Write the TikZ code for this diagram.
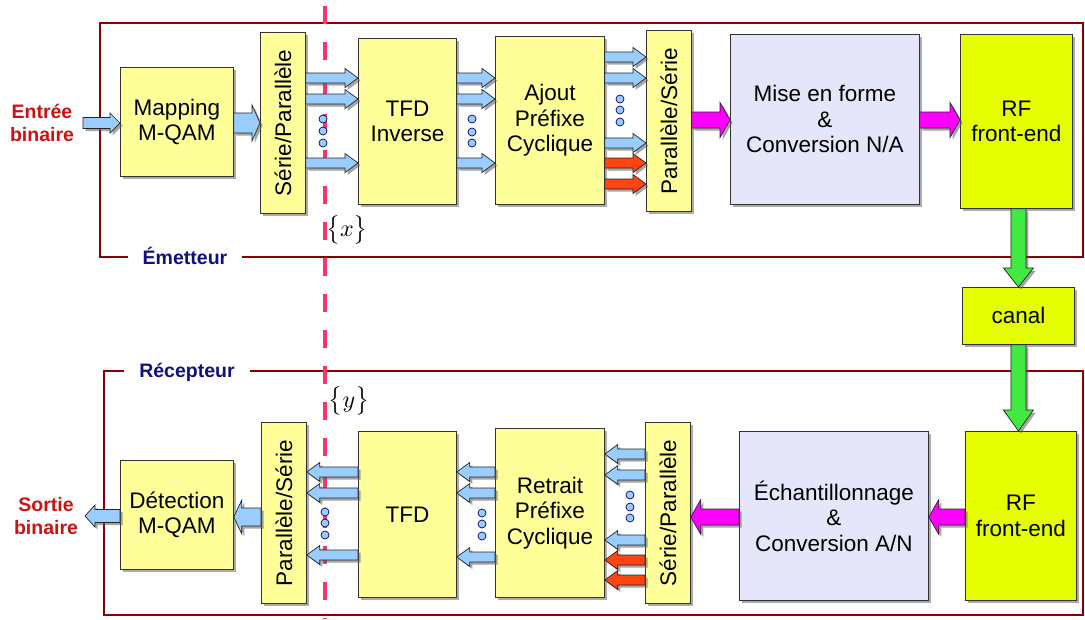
\documentclass[tikz,border=0pt]{standalone}
\usepackage[no-math]{fontspec}
\setmainfont{Liberation Sans}
\usepackage{graphicx}
\usetikzlibrary{calc,shadows}
\definecolor{boxy}{HTML}{FFFF99}
\definecolor{lav}{HTML}{E6E6FA}
\definecolor{rfy}{HTML}{E6FF00}
\definecolor{framec}{HTML}{8B0000}
\definecolor{dashc}{HTML}{FF3366}
\definecolor{ablue}{HTML}{99CCFF}
\definecolor{ared}{HTML}{FF4411}
\definecolor{amag}{HTML}{FF00FF}
\definecolor{agreen}{HTML}{40EA40}
\definecolor{lblred}{HTML}{CC1111}
\definecolor{lblnavy}{HTML}{10107F}
\newcommand\barrow[6]{%
  \coordinate (bs) at (#1);
  \coordinate (be) at (#2);
  \coordinate (bc) at ($(be)!#5!(bs)$);
  \path[fill=black!65, opacity=0.55, transform canvas={xshift=2.5pt,yshift=-2.5pt}]
    ($(bs)!#3!90:(be)$) -- ($(bc)!#3!90:(be)$) -- ($(bc)!#4!90:(be)$) -- (be)
    -- ($(bc)!#4!-90:(be)$) -- ($(bc)!#3!-90:(be)$) -- ($(bs)!#3!-90:(be)$) -- cycle;
  \path[#6]
    ($(bs)!#3!90:(be)$) -- ($(bc)!#3!90:(be)$) -- ($(bc)!#4!90:(be)$) -- (be)
    -- ($(bc)!#4!-90:(be)$) -- ($(bc)!#3!-90:(be)$) -- ($(bs)!#3!-90:(be)$) -- cycle;
}
\newcommand\pdots[2]{%
  \foreach \yy in {#2} {\draw[dotst] (#1,\yy) circle (4);}
}
\tikzset{
  box/.style={draw=black!80, line width=0.8pt, inner sep=0pt, align=center,
    anchor=north west, font=\fontsize{22.5}{25.5}\selectfont,
    drop shadow={shadow xshift=3pt, shadow yshift=-3pt, fill=black!55, opacity=0.6}},
  arrB/.style={draw=black!85, line width=0.7pt, fill=ablue},
  arrR/.style={draw=black!85, line width=0.7pt, fill=ared},
  arrM/.style={draw=black!85, line width=0.7pt, fill=amag},
  arrG/.style={draw=black!85, line width=0.7pt, fill=agreen},
  dotst/.style={draw=blue!45!black, line width=0.7pt, fill=ablue},
  frm/.style={draw=framec, line width=2.5pt},
  lblio/.style={text=lblred, font=\bfseries\fontsize{19.5}{22.5}\selectfont, align=center},
  lblfr/.style={text=lblnavy, font=\bfseries\fontsize{19.5}{22.5}\selectfont, fill=white, inner xsep=15pt, inner ysep=2pt, anchor=base},
  mathlbl/.style={inner sep=0pt}
}
\begin{document}
\begin{tikzpicture}[x=1pt, y=-1pt]
\useasboundingbox (0,0) rectangle (1085,619);
% frames
\draw[frm] (100,23) rectangle (1083,257);
\draw[frm] (104,371) rectangle (1083,615);
\node[lblfr] (emet) at (185,264) {Émetteur};
\node[lblfr] (recep) at (187,377) {Récepteur};
% dashed line
\draw[dashc, line width=3.5pt, dash pattern=on 18pt off 18pt] (325,6) -- (325,619);
% top boxes
\node[box, fill=boxy, minimum width=113pt, minimum height=109pt] (map) at (120,67) {Mapping\\M-QAM};
\node[box, fill=boxy, minimum width=45pt, minimum height=181pt] (sp1) at (260,32) {\rotatebox{90}{Série/Parallèle}};
\node[box, fill=boxy, minimum width=98pt, minimum height=166pt] (tfdi) at (358,38) {TFD\\Inverse};
\node[box, fill=boxy, minimum width=109pt, minimum height=168pt] (ajout) at (495,36) {Ajout\\Préfixe\\Cyclique};
\node[box, fill=boxy, minimum width=45pt, minimum height=181pt] (ps1) at (646,30) {\rotatebox{90}{Parallèle/Série}};
\node[box, fill=lav, minimum width=189pt, minimum height=170pt] (mise) at (730,34) {Mise en forme\\\&\\Conversion N/A};
\node[box, fill=rfy, minimum width=112pt, minimum height=174pt] (rf1) at (960,34) {RF\\front-end};
\node[box, fill=rfy, minimum width=112pt, minimum height=57pt] (canal) at (962,287) {canal};
% bottom boxes
\node[box, fill=boxy, minimum width=113pt, minimum height=109pt] (det) at (120,460) {Détection\\M-QAM};
\node[box, fill=boxy, minimum width=45pt, minimum height=181pt] (ps2) at (261,422) {\rotatebox{90}{Parallèle/Série}};
\node[box, fill=boxy, minimum width=98pt, minimum height=166pt] (tfd) at (358,431) {TFD};
\node[box, fill=boxy, minimum width=109pt, minimum height=169pt] (ret) at (495,428) {Retrait\\Préfixe\\Cyclique};
\node[box, fill=boxy, minimum width=45pt, minimum height=181pt] (sp2) at (645,422) {\rotatebox{90}{Série/Parallèle}};
\node[box, fill=lav, minimum width=189pt, minimum height=169pt] (ech) at (739,431) {Échantillonnage\\\&\\Conversion A/N};
\node[box, fill=rfy, minimum width=111pt, minimum height=169pt] (rf2) at (965,431) {RF\\front-end};
% labels
\node[lblio] (ein) at (42,123) {Entrée\\binaire};
\node[lblio] (sout) at (46,516) {Sortie\\binaire};
\node[mathlbl] (xl) at (347,230) {\scalebox{2.4}{$\bigl\{x\bigr\}$}};
\node[mathlbl] (yl) at (349,401) {\scalebox{2.4}{$\bigl\{y\bigr\}$}};
\coordinate (inpt) at (83,123);
\coordinate (outpt) at (85,516);
% top arrows
\barrow{inpt}{map.west |- 0,123}{5.5pt}{10pt}{10pt}{arrB}
\barrow{map.east |- 0,123}{sp1.west |- 0,123}{10pt}{18pt}{8pt}{arrB}
\foreach \yy in {78,99,163} {\barrow{sp1.east |- 0,\yy}{tfdi.west |- 0,\yy}{5pt}{9.5pt}{13pt}{arrB}}
\foreach \yy in {78,99,163} {\barrow{tfdi.east |- 0,\yy}{ajout.west |- 0,\yy}{5pt}{9.5pt}{13pt}{arrB}}
\foreach \yy in {57,78,143} {\barrow{ajout.east |- 0,\yy}{ps1.west |- 0,\yy}{5pt}{9.5pt}{13pt}{arrB}}
\foreach \yy in {163,184} {\barrow{ajout.east |- 0,\yy}{ps1.west |- 0,\yy}{5pt}{9.5pt}{13pt}{arrR}}
\barrow{ps1.east |- 0,120}{mise.west |- 0,120}{8pt}{17.5pt}{10pt}{arrM}
\barrow{mise.east |- 0,120}{rf1.west |- 0,120}{8pt}{17.5pt}{10pt}{arrM}
\barrow{rf1.south -| canal.north}{canal.north}{7.5pt}{15pt}{19pt}{arrG}
\barrow{canal.south}{canal.south |- rf2.north}{7.5pt}{15pt}{21pt}{arrG}
% bottom arrows
\barrow{rf2.west |- 0,517}{ech.east |- 0,517}{8pt}{17.5pt}{10pt}{arrM}
\barrow{ech.west |- 0,517}{sp2.east |- 0,517}{8pt}{17.5pt}{10pt}{arrM}
\foreach \yy in {454,475,540} {\barrow{sp2.west |- 0,\yy}{ret.east |- 0,\yy}{5pt}{9.5pt}{13pt}{arrB}}
\foreach \yy in {560,580} {\barrow{sp2.west |- 0,\yy}{ret.east |- 0,\yy}{5pt}{9.5pt}{13pt}{arrR}}
\foreach \yy in {472,493,557} {\barrow{ret.west |- 0,\yy}{tfd.east |- 0,\yy}{5pt}{9.5pt}{13pt}{arrB}}
\foreach \yy in {472,493,555} {\barrow{tfd.west |- 0,\yy}{ps2.east |- 0,\yy}{5pt}{9.5pt}{13pt}{arrB}}
\barrow{ps2.west |- 0,517}{det.east |- 0,517}{9pt}{17pt}{8pt}{arrB}
\barrow{det.west |- 0,516}{outpt}{6.5pt}{11pt}{10pt}{arrB}
% dots
\pdots{323}{119,131,143}
\pdots{472}{119,132,143}
\pdots{620}{99,110,122}
\pdots{630}{495,507,518}
\pdots{482}{513,524,536}
\pdots{325}{512,523,535}
\end{tikzpicture}
\end{document}
